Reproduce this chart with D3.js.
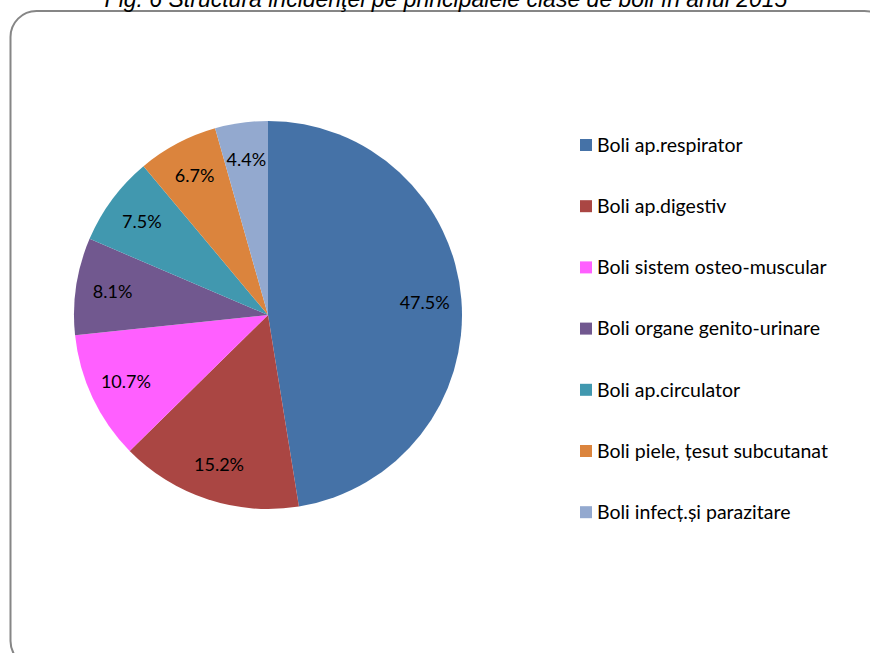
<!DOCTYPE html>
<html>
<head>
<meta charset="utf-8">
<script src="https://cdn.jsdelivr.net/npm/d3@7"></script>
<style>
  html, body { margin: 0; padding: 0; background: #fff; }
  svg { display: block; }
</style>
</head>
<body>
<svg id="chart" width="870" height="653"></svg>
<script>
// Incidence structure by main disease classes
const categories = [
  "Boli ap.respirator",
  "Boli ap.digestiv",
  "Boli sistem osteo-muscular",
  "Boli organe genito-urinare",
  "Boli ap.circulator",
  "Boli piele, țesut subcutanat",
  "Boli infecț.și parazitare"
];
const values = [47.5, 15.2, 10.7, 8.1, 7.5, 6.7, 4.4];
const colors = ["#4572A7", "#AA4643", "#FF5FFF", "#71588F", "#4198AF", "#DB843D", "#93A9CF"];
const title = "Fig. 6 Structura incidenţei pe principalele clase de boli în anul 2015";

const svg = d3.select("#chart");

// outer rounded frame
svg.append("rect")
  .attr("x", 10.5).attr("y", 11)
  .attr("width", 880).attr("height", 656)
  .attr("rx", 26).attr("ry", 26)
  .attr("fill", "#fff")
  .attr("stroke", "#868686").attr("stroke-width", 2);

// title, sitting at the very top edge
svg.append("text")
  .attr("x", 446).attr("y", 7)
  .attr("text-anchor", "middle")
  .attr("font-family", "Liberation Sans, Arial, sans-serif")
  .attr("font-style", "italic")
  .attr("font-size", 23)
  .attr("fill", "#000")
  .text(title);

// pie
const cx = 268, cy = 315, r = 194;
const data = categories.map((c, i) => ({ name: c, value: values[i] }));
const pie = d3.pie().value(d => d.value).sort(null);
const arcs = pie(data);
const arc = d3.arc().innerRadius(0).outerRadius(r);
const labelArc = d3.arc().innerRadius(r * 0.81).outerRadius(r * 0.81);
const color = d3.scaleOrdinal().domain(categories).range(colors);

const g = svg.append("g").attr("transform", `translate(${cx},${cy})`);
g.selectAll("path.slice")
  .data(arcs)
  .join("path")
  .attr("class", "slice")
  .attr("d", arc)
  .attr("fill", d => color(d.data.name));

g.selectAll("text.lbl")
  .data(arcs)
  .join("text")
  .attr("class", "lbl")
  .attr("transform", d => `translate(${labelArc.centroid(d)})`)
  .attr("text-anchor", "middle")
  .attr("dy", "0.35em")
  .attr("font-family", "Lato, 'Open Sans', sans-serif")
  .attr("font-size", 18)
  .attr("fill", "#000")
  .text(d => d3.format(".1f")(d.data.value) + "%");

// legend
const legend = svg.append("g").attr("transform", "translate(580,145)");
const row = legend.selectAll("g.item")
  .data(data)
  .join("g")
  .attr("class", "item")
  .attr("transform", (d, i) => `translate(0,${i * 61.2})`);
row.append("rect")
  .attr("x", 0).attr("y", -6)
  .attr("width", 12).attr("height", 12)
  .attr("fill", d => color(d.name));
row.append("text")
  .attr("x", 17).attr("dy", "0.35em")
  .attr("font-family", "Lato, 'Open Sans', sans-serif")
  .attr("font-size", 19.5)
  .attr("fill", "#000")
  .text(d => d.name);
</script>
</body>
</html>
